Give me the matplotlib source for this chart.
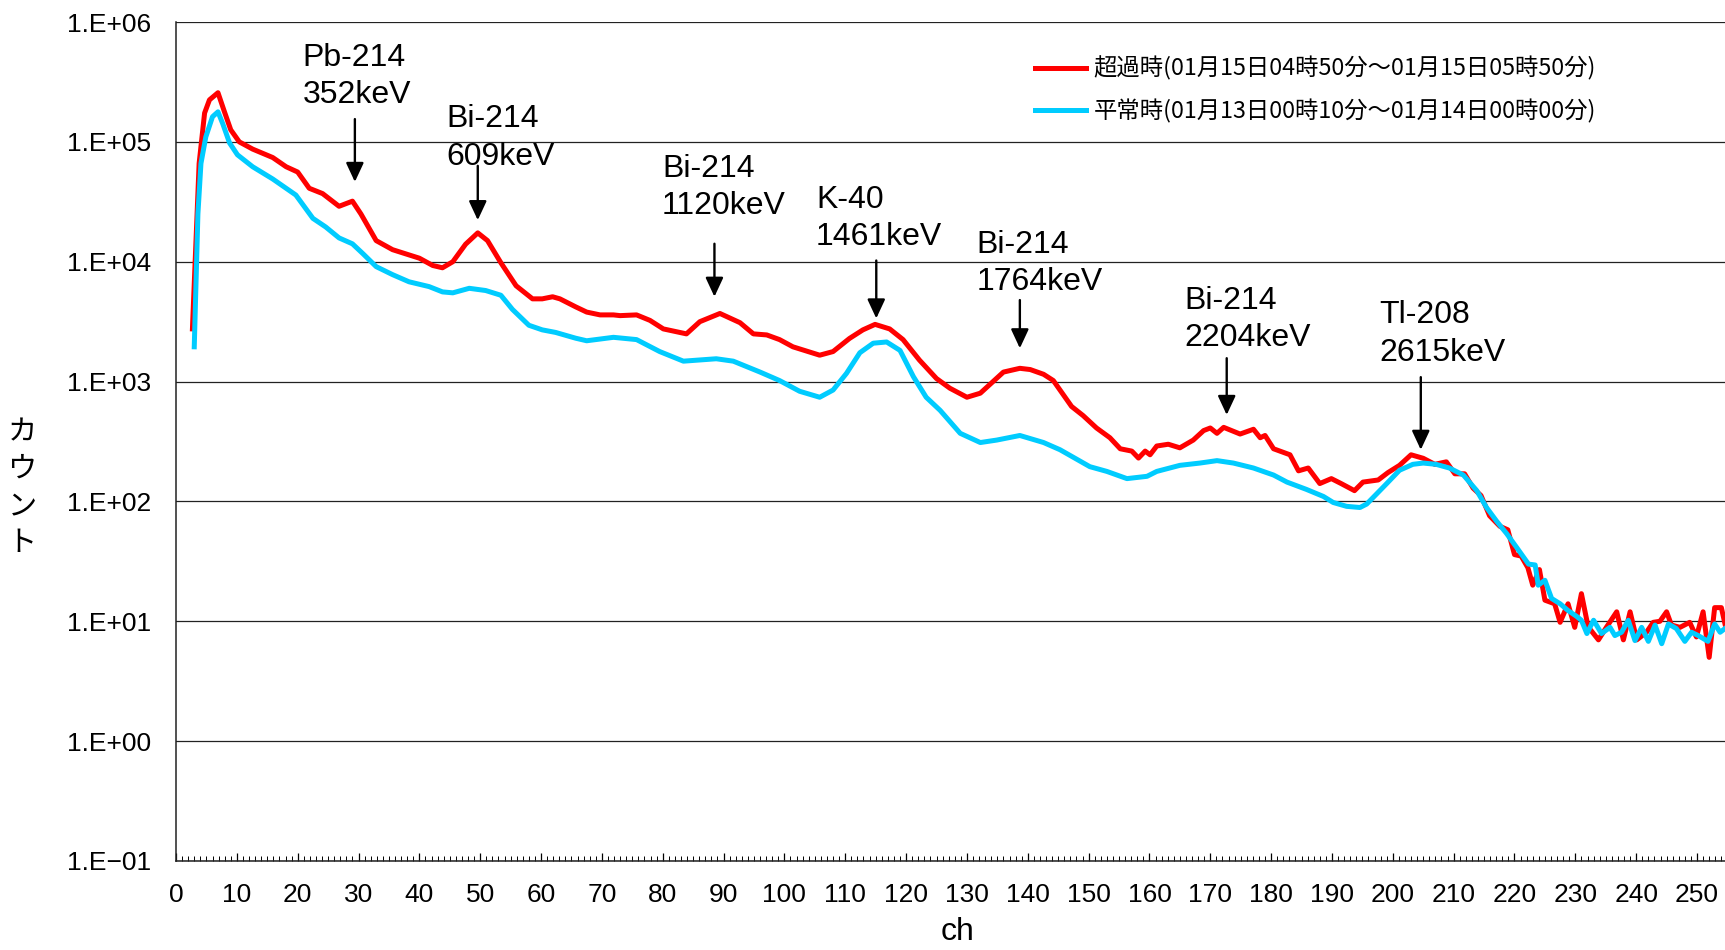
import matplotlib
matplotlib.use("Agg")
import matplotlib.pyplot as plt
from matplotlib.ticker import FixedLocator, MultipleLocator, NullFormatter
from matplotlib.lines import Line2D

# ---------------- data ----------------
red_ch = [2.7, 3.8, 4.7, 5.5, 6.9, 7.9, 9.0, 10.4, 12.6, 15.9,
          18.1, 20.0, 21.9, 24.1, 26.8, 29.0, 30.4, 32.9, 35.6, 40.0,
          42.2, 43.8, 45.5, 47.6, 49.6, 51.2, 53.4, 55.9, 58.6, 60.2,
          61.9, 63.1, 65.7, 67.5, 69.7, 71.9, 73.0, 75.7, 77.9, 80.1,
          83.9, 86.1, 89.4, 92.7, 94.9, 97.1, 99.2, 101.4, 105.8, 108.0,
          110.7, 112.9, 114.9, 117.3, 119.5, 122.2, 125.0, 127.2, 130.0, 132.2,
          136.0, 138.7, 140.4, 142.6, 144.2, 147.2, 149.1, 151.3, 153.5, 155.2,
          157.1, 158.2, 159.3, 160.1, 161.2, 163.1, 165.0, 167.2, 168.9, 170.0,
          171.1, 172.2, 174.9, 177.1, 178.2, 179.0, 180.4, 183.1, 184.5, 186.1,
          188.0, 189.9, 191.5, 193.7, 195.1, 197.6, 199.2, 201.1, 203.0, 205.0,
          206.9, 208.8, 210.2, 211.8, 213.2, 214.5, 215.9, 217.6, 218.9, 220.0,
          221.1, 222.2, 223.0, 224.1, 225.0, 226.6, 227.5, 228.8, 229.9, 231.0,
          232.1, 233.8, 235.1, 236.8, 237.9, 239.0, 240.1, 241.7, 242.8, 243.9,
          245.0, 245.8, 247.2, 248.8, 249.9, 251.0, 252.0, 252.9, 254.0, 254.6]
red_counts = [2750, 66000, 174000, 224000, 257000, 182000, 126000, 100000, 87000, 74000,
              62000, 56000, 41000, 37000, 29000, 32000, 25000, 15000, 12600, 10700,
              9300, 8900, 10000, 14000, 17400, 15000, 9800, 6300, 4900, 4900,
              5100, 4900, 4200, 3800, 3600, 3600, 3550, 3600, 3240, 2750,
              2500, 3160, 3700, 3100, 2500, 2450, 2240, 1950, 1660, 1780,
              2290, 2700, 3000, 2750, 2240, 1510, 1060, 880, 740, 800,
              1200, 1290, 1260, 1150, 1020, 620, 520, 410, 340, 275,
              263, 230, 263, 245, 290, 300, 280, 325, 390, 410,
              370, 415, 365, 400, 340, 355, 275, 245, 180, 190,
              141, 155, 141, 123, 145, 151, 174, 200, 245, 229,
              204, 214, 170, 170, 129, 112, 76, 62, 58, 36,
              35, 28, 20, 27, 15, 14, 9.8, 14, 8.9, 17,
              9.0, 7.0, 8.9, 12, 7.0, 12, 7.0, 8.1, 9.8, 10,
              12, 9.3, 8.9, 9.8, 7.4, 12, 5.0, 13, 13, 9.5]

blue_ch = [3.0, 3.6, 4.1, 4.9, 6.0, 6.9, 7.7, 8.8, 10.1, 12.6,
           15.9, 19.7, 22.5, 24.6, 26.8, 29.0, 30.7, 32.9, 35.6, 38.3,
           41.6, 43.8, 45.5, 48.2, 50.9, 53.4, 55.3, 58.0, 60.2, 62.4,
           65.7, 67.5, 71.9, 75.7, 79.5, 83.4, 88.8, 91.6, 96.0, 99.2,
           102.5, 105.8, 108.0, 110.2, 112.4, 114.6, 116.8, 119.0, 121.2, 123.3,
           125.6, 128.9, 132.2, 134.9, 138.7, 142.6, 145.3, 150.2, 153.0, 156.3,
           159.6, 161.2, 165.0, 168.3, 171.1, 173.8, 177.1, 180.4, 182.6, 185.8,
           188.6, 190.2, 192.4, 194.6, 195.7, 197.3, 199.0, 201.1, 203.3, 205.0,
           207.1, 209.3, 211.6, 213.8, 215.4, 217.1, 218.7, 220.4, 222.3, 223.4,
           223.9, 225.0, 226.1, 227.5, 228.8, 230.2, 231.0, 231.9, 233.0, 234.3,
           235.7, 236.5, 237.6, 238.7, 239.8, 240.9, 242.0, 243.1, 244.2, 245.3,
           246.6, 248.0, 249.1, 250.2, 251.8, 252.9, 253.8, 254.6]
blue_counts = [1950, 25000, 66000, 110000, 162000, 178000, 141000, 98000, 78000, 62000,
               49000, 36000, 23000, 19500, 15800, 14100, 11700, 9100, 7800, 6800,
               6200, 5600, 5500, 6000, 5750, 5250, 4000, 2950, 2700, 2570,
               2300, 2190, 2340, 2240, 1780, 1480, 1550, 1480, 1200, 1020,
               830, 740, 850, 1170, 1740, 2090, 2140, 1820, 1100, 740,
               575, 370, 310, 325, 355, 310, 270, 195, 178, 155,
               162, 178, 200, 209, 219, 209, 190, 166, 145, 126,
               110, 98, 91, 89, 95, 115, 141, 182, 204, 209,
               204, 190, 166, 123, 89, 68, 54, 41, 30, 29.5,
               20, 22, 15.5, 14, 12.3, 11, 10.2, 7.9, 10.2, 7.9,
               8.9, 7.6, 8.1, 10.2, 6.9, 8.9, 6.8, 9.3, 6.5, 9.5,
               8.7, 6.8, 8.1, 7.6, 6.8, 9.5, 8.1, 8.7]

series_labels = ["超過時(01月15日04時50分～01月15日05時50分)",
                 "平常時(01月13日00時10分～01月14日00時00分)"]
y_tick_values = [1e-1, 1e0, 1e1, 1e2, 1e3, 1e4, 1e5, 1e6]
y_tick_labels = ["1.E\u221201", "1.E+00", "1.E+01", "1.E+02",
                 "1.E+03", "1.E+04", "1.E+05", "1.E+06"]
x_tick_values = list(range(0, 251, 10))

peak_labels = ["Pb-214\n352keV", "Bi-214\n609keV", "Bi-214\n1120keV", "K-40\n1461keV",
               "Bi-214\n1764keV", "Bi-214\n2204keV", "Tl-208\n2615keV"]
peak_ch = [29.4, 49.6, 88.5, 115.1, 138.7, 172.7, 204.6]

# ---------------- layout / style ----------------
arrow_top_log = [5.19, 4.80, 4.15, 4.01, 3.68, 3.195, 3.037]
arrow_tip_log = [4.666, 4.347, 3.708, 3.527, 3.278, 2.722, 2.431]
text_x = [20.8, 44.5, 79.9, 105.2, 131.6, 165.8, 197.8]
text_y_log = [5.546, 5.032, 4.619, 4.362, 3.986, 3.518, 3.399]

RED = "#FF0000"
CYAN = "#00CCFF"
LATIN = "Liberation Sans"
CJK = ["Noto Sans CJK JP", "DejaVu Sans"]

W, H = 1725, 950
fig = plt.figure(figsize=(W / 100, H / 100), dpi=100)
ax = fig.add_axes([176 / W, 1 - 861 / H, (W - 176) / W, (861 - 22) / H])

ax.plot(red_ch, red_counts, color=RED, lw=3.6, solid_joinstyle="round", zorder=3)
ax.plot(blue_ch, blue_counts, color=CYAN, lw=3.6, solid_joinstyle="round", zorder=4)

ax.set_yscale("log")
ax.set_ylim(1e-1, 1e6)
ax.set_xlim(0, 254.6)

ax.yaxis.set_major_locator(FixedLocator(y_tick_values))
ax.set_yticklabels(y_tick_labels, fontfamily=LATIN, fontsize=19)
ax.yaxis.set_minor_locator(FixedLocator([]))
ax.yaxis.set_minor_formatter(NullFormatter())
ax.tick_params(axis="y", which="both", length=0, pad=18)

ax.xaxis.set_major_locator(FixedLocator(x_tick_values))
ax.xaxis.set_minor_locator(MultipleLocator(1))
ax.set_xticklabels([str(v) for v in x_tick_values], fontfamily=LATIN, fontsize=19)
ax.tick_params(axis="x", which="major", direction="in", length=5.5, width=0.9, pad=16)
ax.tick_params(axis="x", which="minor", direction="in", length=3.4, width=0.7)

ax.grid(axis="y", which="major", color="#222222", lw=0.9, zorder=1)
for s in ["top", "right"]:
    ax.spines[s].set_visible(False)
for s in ["left", "bottom"]:
    ax.spines[s].set_linewidth(1.1)
    ax.spines[s].set_color("#222222")

# annotations
for lab, ch, at, tp, tx, ty in zip(peak_labels, peak_ch, arrow_top_log, arrow_tip_log,
                                   text_x, text_y_log):
    ax.annotate("", xy=(ch, 10 ** tp), xytext=(ch, 10 ** at),
                arrowprops=dict(arrowstyle="-|>,head_length=0.58,head_width=0.27",
                                color="black", lw=1.7, shrinkA=0, shrinkB=0,
                                mutation_scale=20), zorder=5)
    ax.text(tx, 10 ** ty, lab, ha="left", va="center", fontfamily=LATIN,
            fontsize=23, linespacing=1.33, zorder=6)

# legend
handles = [Line2D([], [], color=RED, lw=3.6), Line2D([], [], color=CYAN, lw=3.6)]
ax.legend(handles, series_labels, loc="upper left",
          bbox_to_anchor=(1035 / W, 1 - 56.5 / H), bbox_transform=fig.transFigure,
          frameon=False, borderpad=0, borderaxespad=0, handlelength=2.2,
          handletextpad=0.3, labelspacing=0.78,
          prop={"family": CJK, "size": 16.8})

# axis titles
fig.text(958 / W, 1 - 932 / H, "ch", ha="center", va="center",
         fontfamily=LATIN, fontsize=23)
for i, ch_ in enumerate("カウント"):
    fig.text(22 / W, 1 - (432 + 37 * i) / H, ch_, ha="center", va="center",
             fontfamily=CJK, fontsize=21)

fig.savefig("out.png", dpi=100)
